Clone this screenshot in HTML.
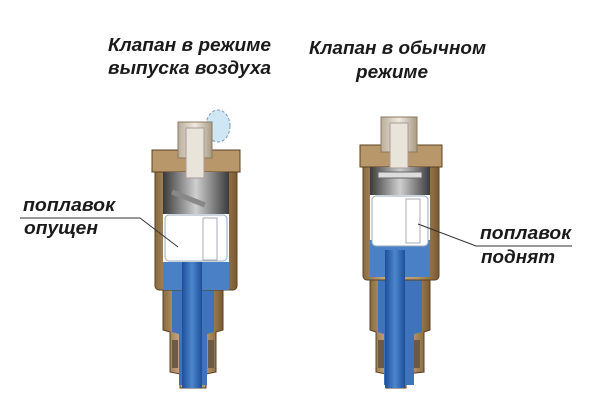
<!DOCTYPE html>
<html><head><meta charset="utf-8"><style>
html,body{margin:0;padding:0;background:#fff;}
svg{display:block;}
text{font-family:"Liberation Sans","DejaVu Sans",sans-serif;font-weight:bold;font-style:italic;fill:#1a1a1a;font-size:18px;}
</style></head><body>
<svg width="610" height="414" viewBox="0 0 610 414" xmlns="http://www.w3.org/2000/svg">
<defs>
<linearGradient id="br" x1="0" x2="1"><stop offset="0" stop-color="#8a6a3e"/><stop offset="0.3" stop-color="#c9ad86"/><stop offset="0.7" stop-color="#b8976a"/><stop offset="1" stop-color="#7a5a32"/></linearGradient>
<linearGradient id="cap" x1="0" x2="1"><stop offset="0" stop-color="#b9ad9a"/><stop offset="0.5" stop-color="#efe9dd"/><stop offset="1" stop-color="#a89b85"/></linearGradient>
<linearGradient id="gr" x1="0" x2="1"><stop offset="0" stop-color="#3a3a3a"/><stop offset="0.5" stop-color="#cfcfcf"/><stop offset="1" stop-color="#3a3a3a"/></linearGradient>
<linearGradient id="bl" x1="0" x2="1"><stop offset="0" stop-color="#1d4f9a"/><stop offset="0.5" stop-color="#4d86cc"/><stop offset="1" stop-color="#1d4f9a"/></linearGradient>
</defs>

<text x="108" y="51" textLength="163" lengthAdjust="spacingAndGlyphs">Клапан в режиме</text>
<text x="108" y="74" textLength="163" lengthAdjust="spacingAndGlyphs">выпуска воздуха</text>
<text x="309" y="54" textLength="177" lengthAdjust="spacingAndGlyphs">Клапан в обычном</text>
<text x="356" y="78" textLength="72" lengthAdjust="spacingAndGlyphs">режиме</text>

<text x="23" y="211" textLength="92" lengthAdjust="spacingAndGlyphs">поплавок</text>
<text x="24" y="234" textLength="74" lengthAdjust="spacingAndGlyphs">опущен</text>
<text x="480" y="239" textLength="91" lengthAdjust="spacingAndGlyphs">поплавок</text>
<text x="481" y="263" textLength="74" lengthAdjust="spacingAndGlyphs">поднят</text>

<!-- LEFT VALVE -->
<g>
<ellipse cx="218" cy="126" rx="12" ry="16" fill="#cfe6f5" stroke="#7a9ab5" stroke-dasharray="3,2"/>
<path d="M163 287 L163 330 L170 332 L170 372 L180 374 L180 388 L206 388 L206 374 L216 372 L216 332 L223 330 L223 287 Z" fill="url(#br)" stroke="#5a4020"/>
<path d="M172 287 L214 287 L214 332 L207 334 L207 385 L179 385 L179 334 L172 332 Z" fill="#3f74bd"/>
<rect x="155" y="150" width="82" height="140" rx="4" fill="url(#br)" stroke="#5a4020"/>
<rect x="152" y="150" width="88" height="22" fill="#b8976a" stroke="#5a4020"/>
<rect x="163" y="172" width="66" height="42" fill="url(#gr)"/>
<rect x="163" y="214" width="66" height="54" fill="#fbfdff"/>
<rect x="163" y="262" width="66" height="28" fill="#4a80c6"/>
<rect x="165" y="215" width="62" height="46" rx="4" fill="#fff" stroke="#9ab"/>
<rect x="203" y="218" width="14" height="42" fill="#fff" stroke="#aab"/>
<rect x="182" y="262" width="20" height="126" fill="url(#bl)"/>
<g fill="#6b5a45"><rect x="172" y="340" width="6" height="28"/><rect x="208" y="340" width="6" height="28"/></g>
<line x1="172" y1="192" x2="205" y2="205" stroke="#888" stroke-width="5"/>
<path d="M178 122 L212 122 L212 158 L178 158 Z" fill="url(#cap)" stroke="#8a7a60"/>
<rect x="186" y="128" width="18" height="50" fill="#e9e4da" stroke="#a99"/>
</g>

<!-- RIGHT VALVE -->
<g>
<path d="M370 277 L370 330 L376 332 L376 372 L386 374 L386 388 L406 388 L406 374 L424 372 L424 332 L430 330 L430 277 Z" fill="url(#br)" stroke="#5a4020"/>
<path d="M378 277 L422 277 L422 332 L414 334 L414 385 L384 385 L384 334 L378 332 Z" fill="#3f74bd"/>
<rect x="363" y="145" width="76" height="135" rx="4" fill="url(#br)" stroke="#5a4020"/>
<rect x="360" y="145" width="82" height="22" fill="#b8976a" stroke="#5a4020"/>
<rect x="370" y="167" width="60" height="28" fill="url(#gr)"/>
<rect x="370" y="195" width="60" height="48" fill="#fbfdff"/>
<rect x="370" y="240" width="60" height="37" fill="#4a80c6"/>
<rect x="372" y="196" width="56" height="50" rx="4" fill="#fff" stroke="#9ab"/>
<rect x="406" y="199" width="14" height="44" fill="#fff" stroke="#aab"/>
<rect x="385" y="250" width="20" height="138" fill="url(#bl)"/>
<g fill="#6b5a45"><rect x="378" y="340" width="6" height="28"/><rect x="414" y="340" width="6" height="28"/></g>
<rect x="378" y="172" width="44" height="6" fill="#ddd" stroke="#666"/>
<path d="M381 117 L417 117 L417 152 L381 152 Z" fill="url(#cap)" stroke="#8a7a60"/>
<rect x="390" y="123" width="18" height="45" fill="#e9e4da" stroke="#a99"/>
</g>

<!-- leader lines -->
<polyline points="20,218 140,218 178,247" fill="none" stroke="#333" stroke-width="1"/>
<polyline points="418,224 476,246 572,246" fill="none" stroke="#333" stroke-width="1"/>
</svg>
</body></html>
